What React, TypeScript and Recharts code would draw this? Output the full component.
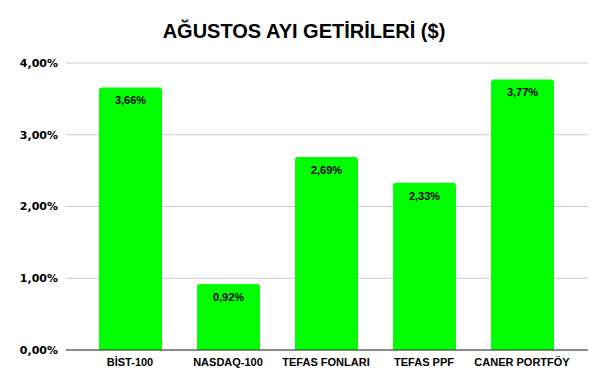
import { BarChart, Bar, XAxis, YAxis, CartesianGrid, LabelList } from "recharts";

const categories = ["BİST-100", "NASDAQ-100", "TEFAS FONLARI", "TEFAS PPF", "CANER PORTFÖY"];
const returns = [3.66, 0.92, 2.69, 2.33, 3.77];
const yTicks = [0, 1, 2, 3, 4];

const fmt = (v: number) => v.toFixed(2).replace(".", ",") + "%";

export default function App() {
  const data = categories.map((name, i) => ({ name, value: returns[i] }));

  return (
    <div
      style={{
        position: "absolute",
        left: 0,
        top: 0,
        width: 608,
        height: 390,
        background: "#fff",
        fontFamily: "'Liberation Sans', Arial, sans-serif",
      }}
    >
      <div
        style={{
          position: "absolute",
          top: 20,
          width: 608,
          textAlign: "center",
          fontSize: 20,
          fontWeight: "bold",
          color: "#000",
        }}
      >
        AĞUSTOS AYI GETİRİLERİ ($)
      </div>
      <BarChart
        width={608}
        height={390}
        data={data}
        margin={{ top: 63, right: 20, left: 0, bottom: 10 }}
        barCategoryGap={17}
      >
        <CartesianGrid vertical={false} stroke="#cccccc" />
        <XAxis
          dataKey="name"
          height={30}
          tickLine={false}
          axisLine={{ stroke: "#333333" }}
          padding={{ left: 15, right: 17 }}
          tick={{ fill: "#000", fontSize: 11, fontWeight: "bold" }}
          interval={0}
        />
        <YAxis
          width={66}
          domain={[0, 4]}
          ticks={yTicks}
          tickFormatter={fmt}
          axisLine={false}
          tickLine={false}
          tick={{ fill: "#000", fontSize: 11, fontWeight: "bold", fontFamily: "'DejaVu Sans', sans-serif" }}
        />
        <Bar dataKey="value" fill="#00ff00" barSize={63} radius={[3, 3, 0, 0]} isAnimationActive={false}>
          <LabelList
            dataKey="value"
            position="insideTop"
            offset={9}
            formatter={(v: any) => fmt(Number(v))}
            style={{ fill: "#000", fontSize: 11, fontWeight: "bold" }}
          />
        </Bar>
      </BarChart>
    </div>
  );
}
